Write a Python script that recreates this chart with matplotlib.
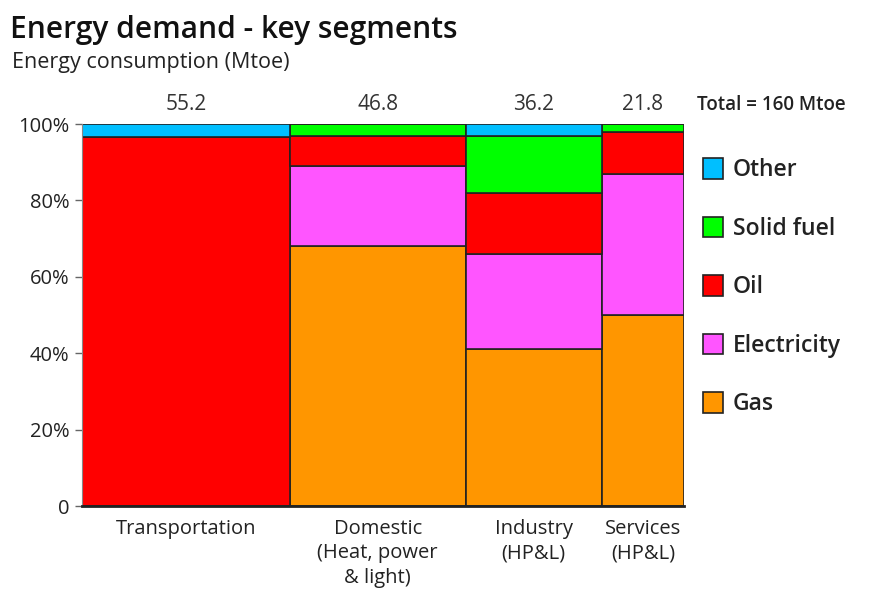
import matplotlib.pyplot as plt
import numpy as np

plt.rcParams["font.family"] = ["Open Sans", "DejaVu Sans"]

# Sector sizes (Mtoe) set the column widths
sectors = ["Transportation", "Domestic\n(Heat, power\n& light)", "Industry\n(HP&L)", "Services\n(HP&L)"]
totals = [55.2, 46.8, 36.2, 21.8]

# Share of each fuel within a sector (%), stacked bottom to top
gas = [0, 68, 41, 50]
electricity = [0, 21, 25, 37]
oil = [96.5, 8, 16, 11]
solid_fuel = [0, 3, 15, 2]
other = [3.5, 0, 3, 0]

fuels = ["Gas", "Electricity", "Oil", "Solid fuel", "Other"]
shares = [gas, electricity, oil, solid_fuel, other]
colors = ["#ff9600", "#ff55ff", "#ff0000", "#00ff00", "#00bfff"]

fig = plt.figure(figsize=(8.71, 5.91), dpi=100)
ax = fig.add_axes([0.0941, 0.1438, 0.691, 0.6462])

lefts = np.concatenate([[0], np.cumsum(totals)[:-1]])
bottom = np.zeros(len(totals))
handles = []
for name, vals, col in zip(fuels, shares, colors):
    vals = np.array(vals, dtype=float)
    bars = ax.bar(lefts, vals, width=totals, bottom=bottom, align="edge",
                  color=col, edgecolor="#222222", linewidth=1.2, label=name)
    handles.append(bars)
    bottom += vals

ax.set_xlim(0, sum(totals))
ax.set_ylim(0, 100)
ax.set_yticks([0, 20, 40, 60, 80, 100])
ax.set_yticklabels(["0", "20%", "40%", "60%", "80%", "100%"], fontsize=14.5,
                   color="#222222", fontweight="medium")
ax.tick_params(axis="y", length=5, width=1, color="#666666", pad=4)
ax.set_xticks(lefts + np.array(totals) / 2)
ax.set_xticklabels(sectors, fontsize=14.5, color="#222222", linespacing=1.3,
                   fontweight="medium")
ax.tick_params(axis="x", length=0, pad=9)
for s in ["top", "right"]:
    ax.spines[s].set_visible(False)
ax.spines["left"].set_color("#888888")
ax.spines["bottom"].set_linewidth(2)
ax.spines["bottom"].set_color("#222222")

# sector totals above each column
for x, t in zip(lefts + np.array(totals) / 2, totals):
    ax.text(x, 102.5, f"{t}", ha="center", va="bottom", fontsize=15,
            color="#333333", fontweight="medium")
ax.text(1.0216, 1.025, f"Total = {sum(totals):.0f} Mtoe", transform=ax.transAxes,
        ha="left", va="bottom", fontsize=13.5, color="#222222", fontweight="semibold")

leg = ax.legend(handles=handles[::-1], labels=fuels[::-1], loc="upper left",
                bbox_to_anchor=(1.017, 0.935), frameon=False,
                prop={"size": 16.5, "weight": "semibold"},
                handlelength=0.85, handleheight=1.0, labelspacing=1.5,
                handletextpad=0.45, borderaxespad=0)
for t in leg.get_texts():
    t.set_color("#222222")

fig.text(0.012, 0.935, "Energy demand - key segments", fontsize=21.5, fontweight="semibold",
         color="#111111", ha="left", va="baseline")
fig.text(0.014, 0.885, "Energy consumption (Mtoe)", fontsize=15.5, color="#222222",
         ha="left", va="baseline", fontweight="medium")

fig.savefig("out.png", dpi=100, facecolor="white")
